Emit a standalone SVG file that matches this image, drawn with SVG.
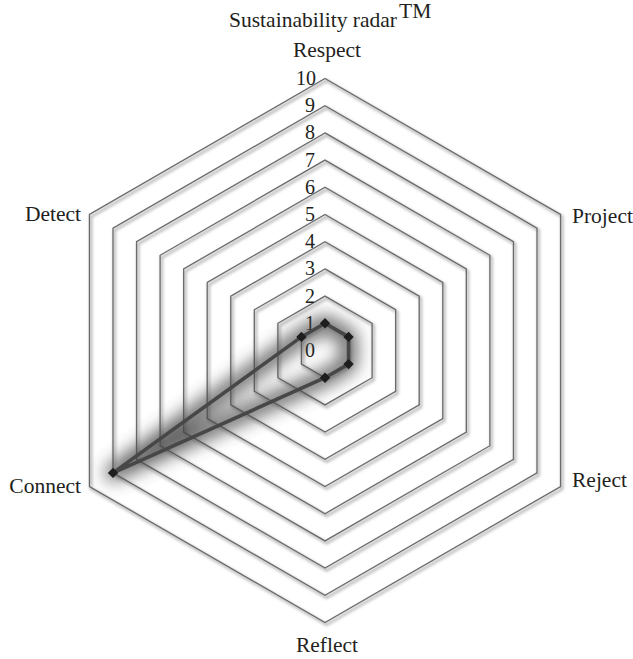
<svg xmlns="http://www.w3.org/2000/svg" width="633" height="659" viewBox="0 0 633 659">
  <style>
    .lbl { font-family: "Liberation Serif", "Times New Roman", serif; font-size: 21.5px; fill: #231f20; }
    .num { font-family: "Liberation Serif", "Times New Roman", serif; font-size: 20px; fill: #231f20; text-anchor: end; }
    .ring { fill: none; stroke: #6a6a6a; stroke-width: 1.3; stroke-linejoin: miter; }
    .ring-shadow { fill: none; stroke: #b0b0b0; stroke-width: 2.4; }
    .series { fill: none; stroke: #474747; stroke-width: 3.6; stroke-linejoin: miter; }
    .series-shadow { fill: none; stroke: #444444; stroke-width: 16; stroke-linejoin: round; }
  </style>
  <defs>
    <filter id="soft" x="-10%" y="-10%" width="120%" height="120%">
      <feGaussianBlur stdDeviation="1.5"/>
    </filter>
    <filter id="glow" x="-40%" y="-40%" width="180%" height="180%">
      <feGaussianBlur stdDeviation="8.5"/>
    </filter>
    <marker id="diamond" markerUnits="userSpaceOnUse" markerWidth="12" markerHeight="12" refX="6" refY="6" orient="0">
      <polygon points="6,0.8 11.2,6 6,11.2 0.8,6" fill="#1e1e1e"/>
    </marker>
  </defs>

  <rect width="633" height="659" fill="#ffffff"/>

  <!-- concentric hexagonal grid, levels 1..10, 27.2px per level -->
  <g id="grid" transform="translate(325,350.5)">
    <g id="grid-shadows" filter="url(#soft)" transform="translate(1.6,2.2)">
      <polygon class="ring-shadow" points="0,-27.2 23.56,-13.6 23.56,13.6 0,27.2 -23.56,13.6 -23.56,-13.6"/>
      <polygon class="ring-shadow" points="0,-54.4 47.11,-27.2 47.11,27.2 0,54.4 -47.11,27.2 -47.11,-27.2"/>
      <polygon class="ring-shadow" points="0,-81.6 70.67,-40.8 70.67,40.8 0,81.6 -70.67,40.8 -70.67,-40.8"/>
      <polygon class="ring-shadow" points="0,-108.8 94.22,-54.4 94.22,54.4 0,108.8 -94.22,54.4 -94.22,-54.4"/>
      <polygon class="ring-shadow" points="0,-136 117.78,-68 117.78,68 0,136 -117.78,68 -117.78,-68"/>
      <polygon class="ring-shadow" points="0,-163.2 141.33,-81.6 141.33,81.6 0,163.2 -141.33,81.6 -141.33,-81.6"/>
      <polygon class="ring-shadow" points="0,-190.4 164.89,-95.2 164.89,95.2 0,190.4 -164.89,95.2 -164.89,-95.2"/>
      <polygon class="ring-shadow" points="0,-217.6 188.44,-108.8 188.44,108.8 0,217.6 -188.44,108.8 -188.44,-108.8"/>
      <polygon class="ring-shadow" points="0,-244.8 212,-122.4 212,122.4 0,244.8 -212,122.4 -212,-122.4"/>
      <polygon class="ring-shadow" points="0,-272 235.56,-136 235.56,136 0,272 -235.56,136 -235.56,-136"/>
    </g>
    <g id="grid-lines">
      <polygon class="ring" points="0,-27.2 23.56,-13.6 23.56,13.6 0,27.2 -23.56,13.6 -23.56,-13.6"/>
      <polygon class="ring" points="0,-54.4 47.11,-27.2 47.11,27.2 0,54.4 -47.11,27.2 -47.11,-27.2"/>
      <polygon class="ring" points="0,-81.6 70.67,-40.8 70.67,40.8 0,81.6 -70.67,40.8 -70.67,-40.8"/>
      <polygon class="ring" points="0,-108.8 94.22,-54.4 94.22,54.4 0,108.8 -94.22,54.4 -94.22,-54.4"/>
      <polygon class="ring" points="0,-136 117.78,-68 117.78,68 0,136 -117.78,68 -117.78,-68"/>
      <polygon class="ring" points="0,-163.2 141.33,-81.6 141.33,81.6 0,163.2 -141.33,81.6 -141.33,-81.6"/>
      <polygon class="ring" points="0,-190.4 164.89,-95.2 164.89,95.2 0,190.4 -164.89,95.2 -164.89,-95.2"/>
      <polygon class="ring" points="0,-217.6 188.44,-108.8 188.44,108.8 0,217.6 -188.44,108.8 -188.44,-108.8"/>
      <polygon class="ring" points="0,-244.8 212,-122.4 212,122.4 0,244.8 -212,122.4 -212,-122.4"/>
      <polygon class="ring" points="0,-272 235.56,-136 235.56,136 0,272 -235.56,136 -235.56,-136"/>
    </g>
  </g>

  <!-- scale values along the top axis -->
  <g id="scale">
    <text class="num" x="315" y="357">0</text>
    <text class="num" x="315" y="330">1</text>
    <text class="num" x="315" y="302.5">2</text>
    <text class="num" x="315" y="275.3">3</text>
    <text class="num" x="315" y="248.1">4</text>
    <text class="num" x="315" y="220.9">5</text>
    <text class="num" x="315" y="193.7">6</text>
    <text class="num" x="315" y="166.5">7</text>
    <text class="num" x="315" y="139.3">8</text>
    <text class="num" x="315" y="112.1">9</text>
    <text class="num" x="316" y="85">10</text>
  </g>

  <!-- data series: Respect 1, Project 1, Reject 1, Reflect 1, Connect 9, Detect 1 -->
  <g id="series" transform="translate(325,350.5)">
    <polygon class="series-shadow" filter="url(#glow)" opacity="0.85" points="0,-27.2 23.56,-13.6 23.56,13.6 0,27.2 -212,122.4 -23.56,-13.6"/>
    <polygon class="series" marker-start="url(#diamond)" marker-mid="url(#diamond)" points="0,-27.2 23.56,-13.6 23.56,13.6 0,27.2 -212,122.4 -23.56,-13.6"/>
  </g>

  <!-- title and axis names -->
  <g id="title">
    <text class="lbl" x="229" y="27" font-size="22" textLength="168" lengthAdjust="spacing">Sustainability radar</text>
    <text class="lbl" x="399" y="18" font-size="13">TM</text>
  </g>
  <g id="axis-respect"><text class="lbl" x="327" y="57" text-anchor="middle">Respect</text></g>
  <g id="axis-project"><text class="lbl" x="572" y="223">Project</text></g>
  <g id="axis-reject"><text class="lbl" x="572" y="487">Reject</text></g>
  <g id="axis-reflect"><text class="lbl" x="327" y="652" text-anchor="middle">Reflect</text></g>
  <g id="axis-connect"><text class="lbl" x="81" y="493" text-anchor="end">Connect</text></g>
  <g id="axis-detect"><text class="lbl" x="81" y="221" text-anchor="end">Detect</text></g>
</svg>
